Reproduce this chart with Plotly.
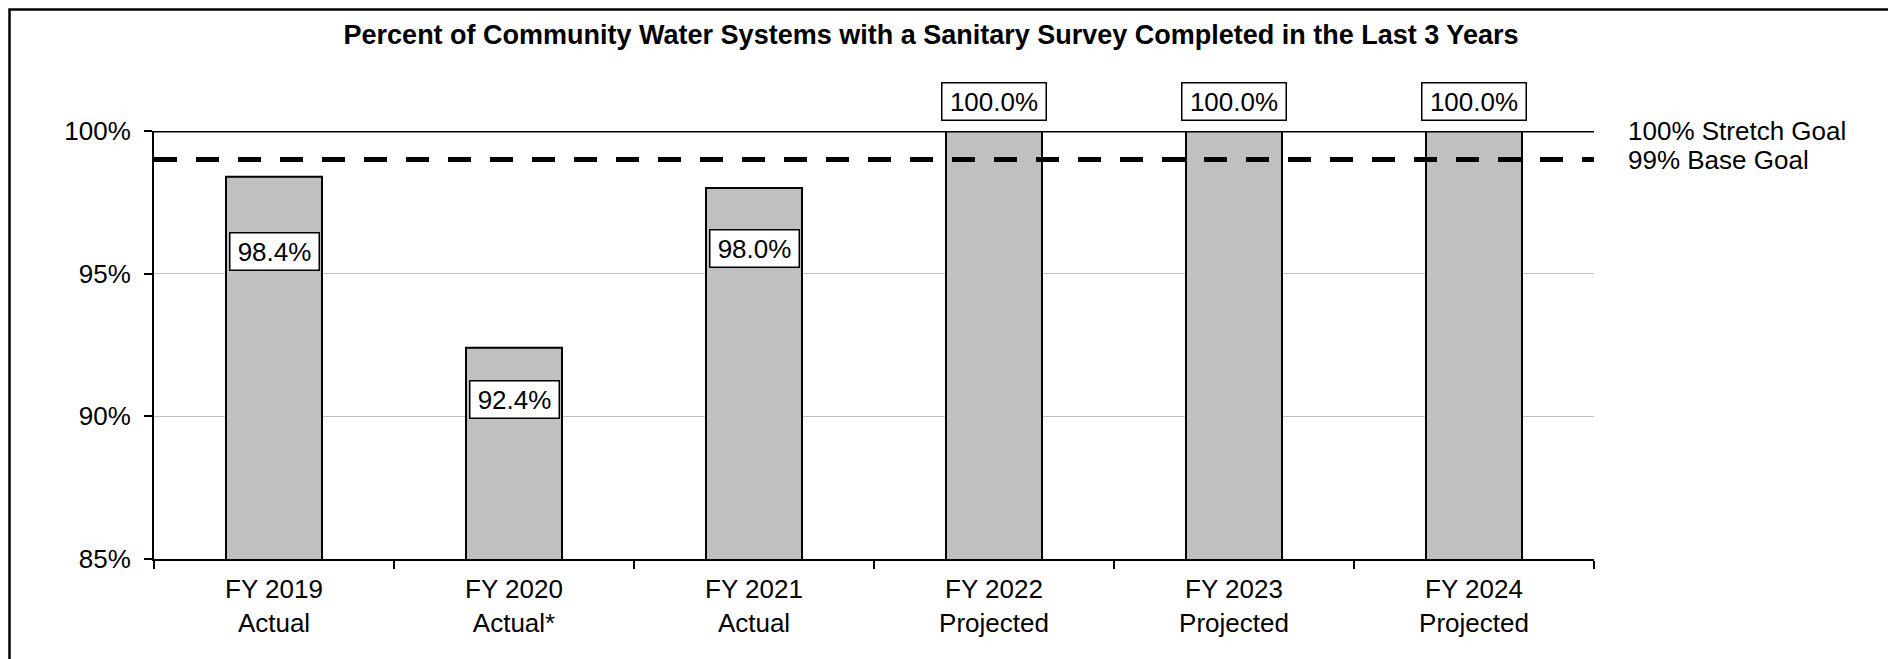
"""Bar chart: Percent of Community Water Systems with a Sanitary Survey."""

import plotly.graph_objects as go

# ===== DONNÉES =====
fiscal_years = ["FY 2019", "FY 2020", "FY 2021", "FY 2022", "FY 2023", "FY 2024"]
status = ["Actual", "Actual*", "Actual", "Projected", "Projected", "Projected"]
percent_surveyed = [98.4, 92.4, 98.0, 100.0, 100.0, 100.0]
stretch_goal = 100
base_goal = 99
y_ticks = [85, 90, 95, 100]

# décalage vertical des étiquettes (px, positif = vers le haut)
label_shift_px = [-75, -52, -60, 30, 30, 30]

FONT = "Liberation Sans, Arial, sans-serif"
# la page HTML ajoute une marge de 8px autour de la figure
W, H = 1888, 651
L, R, T, B = 146, 302, 123, 100

categories = [f"{fy}<br>{st}" for fy, st in zip(fiscal_years, status)]

fig = go.Figure(go.Bar(
    x=categories,
    y=percent_surveyed,
    width=0.4,
    marker=dict(color="#C0C0C0", line=dict(color="black", width=2)),
    hoverinfo="skip",
))

# ===== LIGNES OBJECTIFS =====
fig.add_hline(y=stretch_goal, line=dict(color="black", width=3), layer="above")
fig.add_hline(y=base_goal, line=dict(color="black", width=5, dash="23px,19px"), layer="above")

for goal, name in [(stretch_goal, "Stretch Goal"), (base_goal, "Base Goal")]:
    fig.add_annotation(x=1, xref="paper", xshift=32, y=goal, yref="y",
                       text=f"{goal}% {name}", showarrow=False,
                       xanchor="left", yanchor="middle", font=dict(size=26, color="black"))

# ===== ÉTIQUETTES VALEURS =====
for cat, val, shift in zip(categories, percent_surveyed, label_shift_px):
    txt = f"{val:.1f}%"
    fig.add_annotation(
        x=cat, y=val, yshift=shift, text=txt, showarrow=False,
        font=dict(size=26, color="black"),
        bgcolor="white", bordercolor="black", borderwidth=1.5, borderpad=1,
        width=15 * len(txt) + 11, height=34,
    )


# ===== CADRE =====
def px_x(p):
    return (p - L) / (W - L - R)


def px_y(p):
    return (H - B - p) / (H - T - B)


fig.add_shape(type="rect", xref="paper", yref="paper",
              x0=px_x(1.5), x1=px_x(1884), y0=px_y(700), y1=px_y(1.5),
              line=dict(color="black", width=2.5), fillcolor="rgba(0,0,0,0)")

# ===== LAYOUT =====
fig.update_layout(
    width=W, height=H,
    margin=dict(l=L, r=R, t=T, b=B),
    paper_bgcolor="white", plot_bgcolor="white",
    font=dict(family=FONT, size=26, color="black"),
    title=dict(
        text="<b>Percent of Community Water Systems with a Sanitary Survey Completed in the Last 3 Years</b>",
        x=923 / W, xanchor="center", y=1 - 27 / H, yanchor="middle",
        font=dict(size=27, color="black"),
    ),
    showlegend=False,
    xaxis=dict(
        type="category", tickson="boundaries", ticks="outside", ticklen=8,
        tickwidth=1.5, tickcolor="black", showline=True, linecolor="black",
        linewidth=2, showgrid=False, tickfont=dict(size=26), ticklabelstandoff=6,
    ),
    yaxis=dict(
        range=[85, 100], tickvals=y_ticks, ticktext=[f"{v}%" for v in y_ticks],
        ticks="outside", ticklen=8, tickwidth=1.5, tickcolor="black",
        showline=True, linecolor="black", linewidth=2,
        showgrid=True, gridcolor="#BFBFBF", gridwidth=1, zeroline=False,
        tickfont=dict(size=26), ticklabelstandoff=8,
    ),
)

fig.write_html("out.html")
